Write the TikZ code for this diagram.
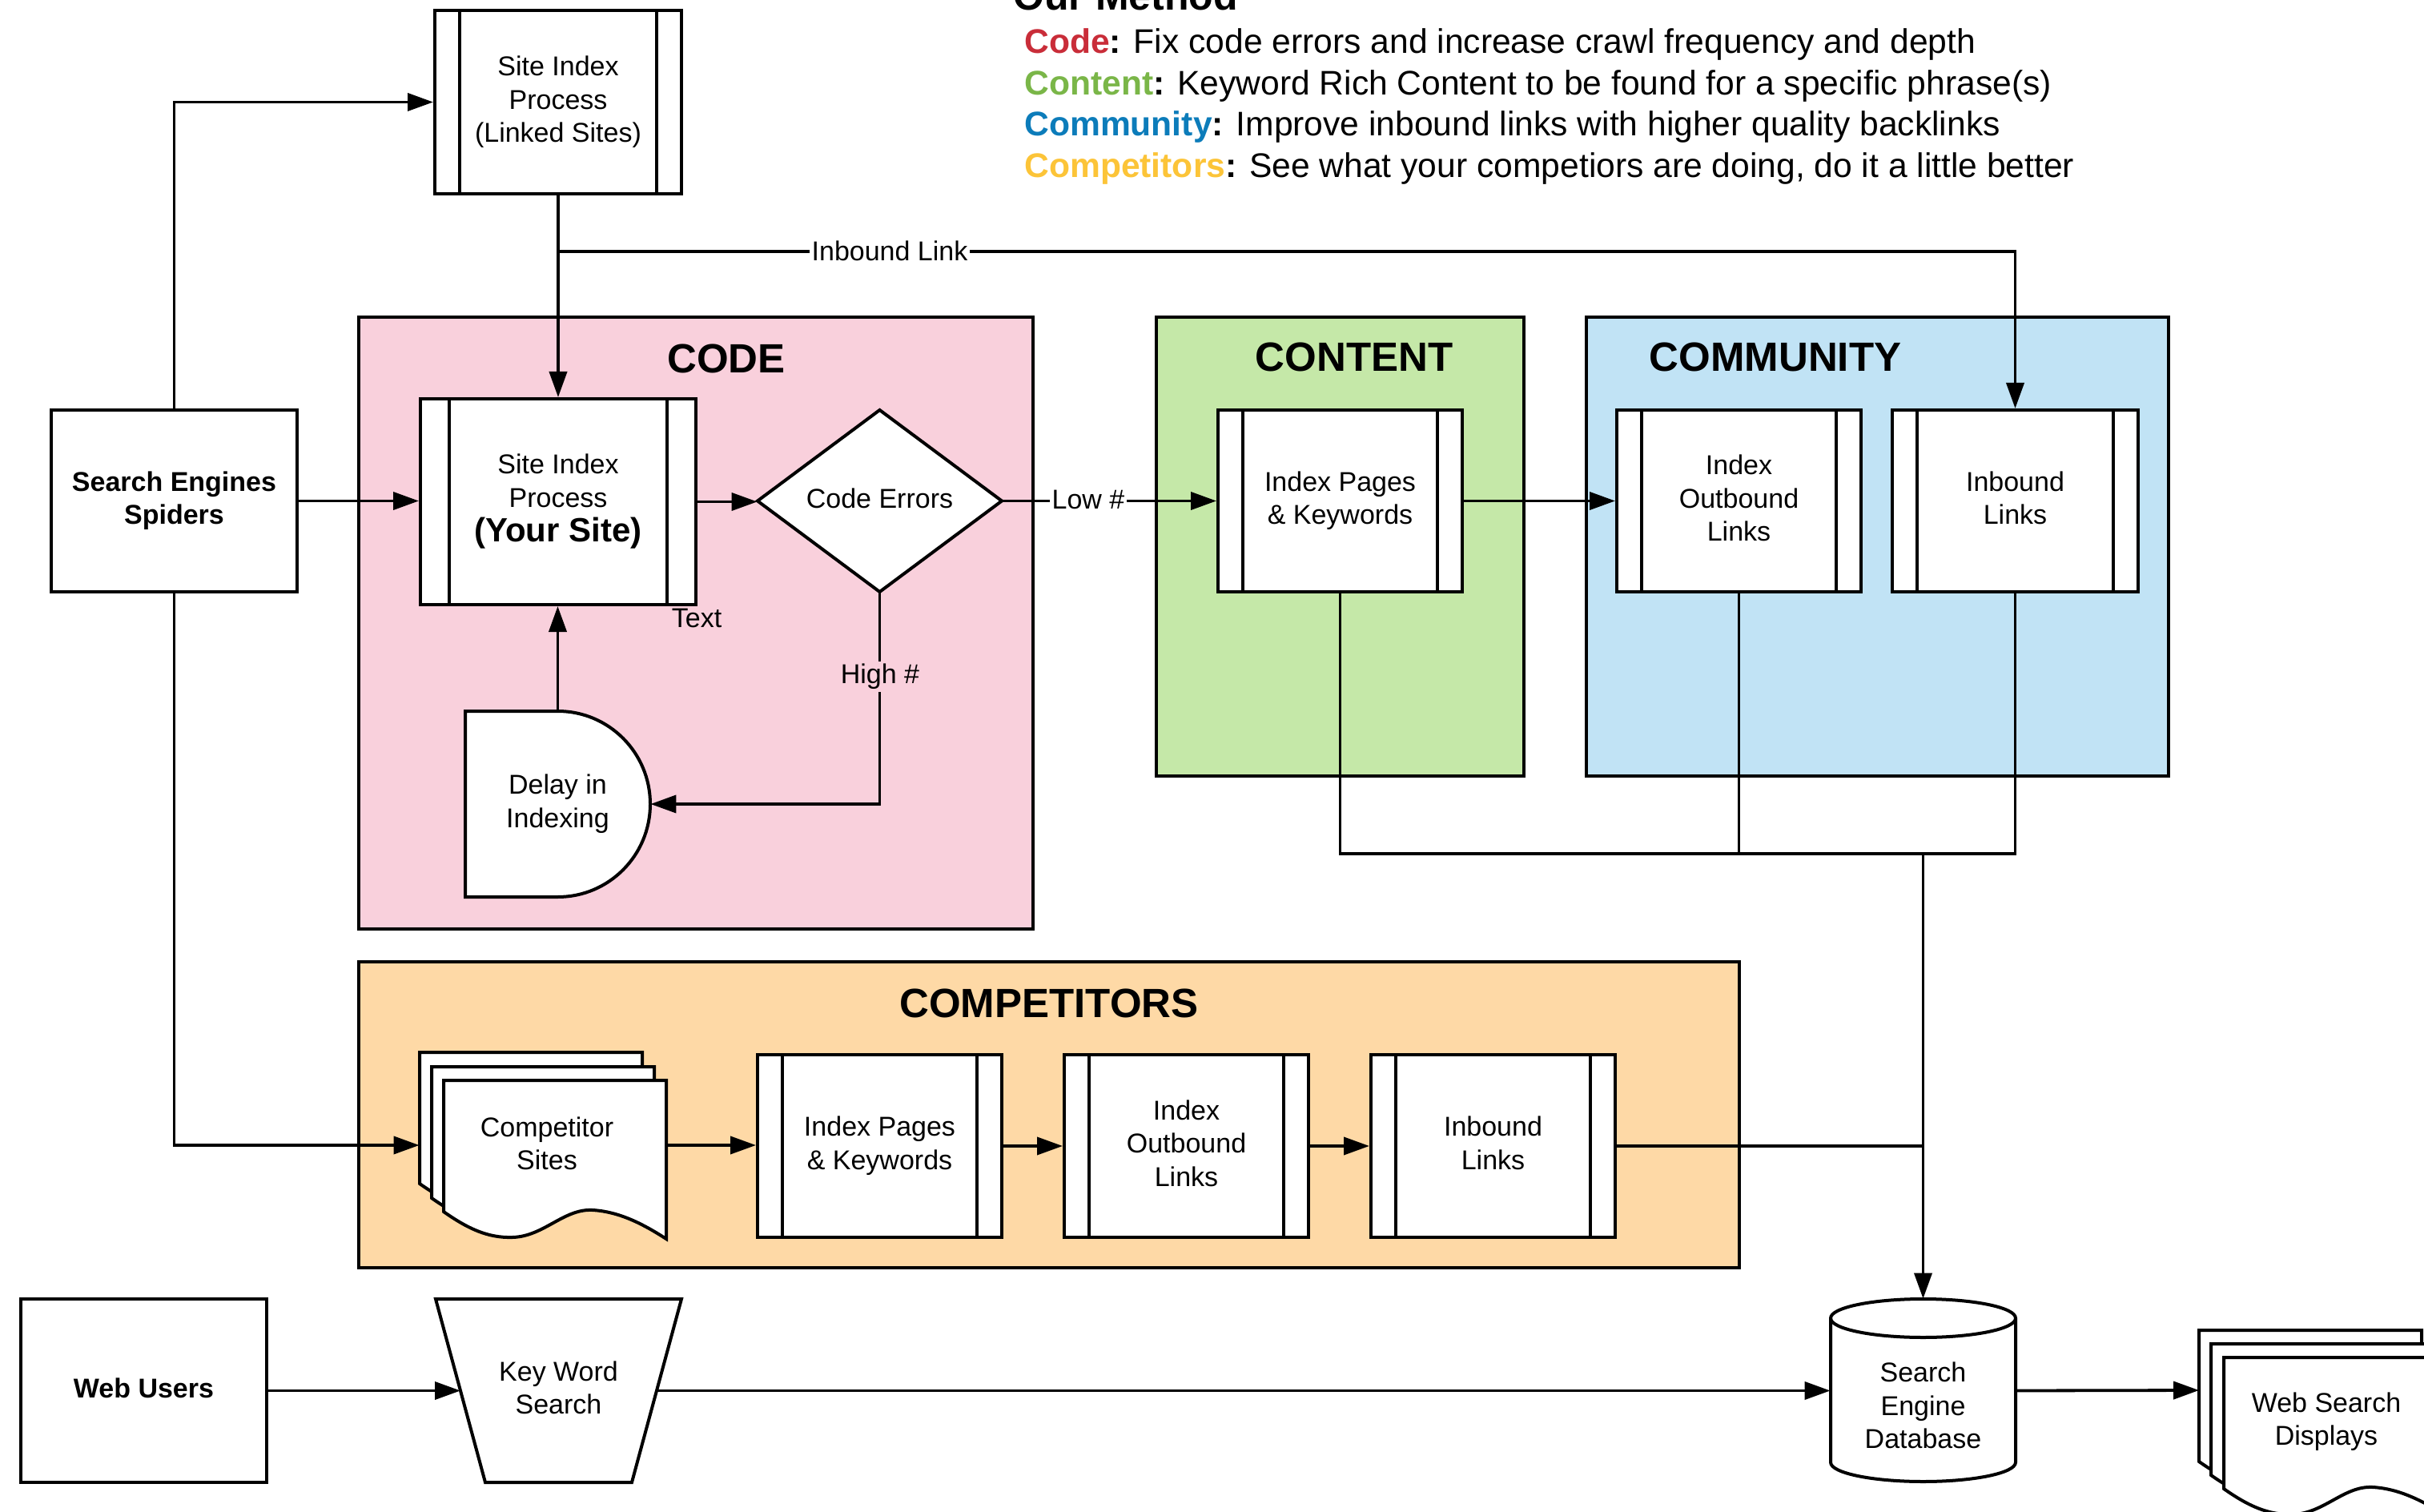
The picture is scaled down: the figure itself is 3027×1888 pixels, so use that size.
\documentclass[tikz,border=0pt]{standalone}
\usepackage{fontspec}
\setmainfont{Liberation Sans}
\usetikzlibrary{arrows.meta,calc}
\definecolor{pinkfill}{RGB}{249,208,220}
\definecolor{greenfill}{RGB}{197,232,168}
\definecolor{bluefill}{RGB}{193,227,245}
\definecolor{orangefill}{RGB}{254,217,166}
\definecolor{codered}{RGB}{201,45,57}
\definecolor{contentgreen}{RGB}{122,182,72}
\definecolor{communityblue}{RGB}{12,124,186}
\definecolor{compyellow}{RGB}{252,196,56}
\tikzset{
  txt/.style={align=center, inner sep=0pt, font=\fontsize{17}{20.75}\selectfont},
  strutted/.style={execute at end node={\rule[-3.7pt]{0pt}{0pt}}},
  box/.style={txt, strutted, draw, line width=2pt, fill=white, rectangle},
  procbox/.style={box, path picture={
      \draw[line width=2pt] ([xshift=#1]path picture bounding box.north west) -- ([xshift=#1]path picture bounding box.south west);
      \draw[line width=2pt] ([xshift=-#1]path picture bounding box.north east) -- ([xshift=-#1]path picture bounding box.south east);}},
  procbox/.default=15.5pt,
  ghost/.style={txt, strutted, rectangle, draw=none},
  conn/.style={line width=1.9pt, -{Triangle[length=16pt,width=11pt]}},
  plainline/.style={line width=1.9pt},
  shp/.style={draw, line width=2pt, fill=white, line join=miter},
  region/.style={draw, line width=1.9pt, rectangle, inner sep=0pt},
  rtitle/.style={inner sep=0pt, font=\fontsize{25.5}{30}\selectfont\bfseries},
  lbl/.style={inner sep=1.5pt, font=\fontsize{17}{20}\selectfont},
  legend/.style={anchor=base west, inner sep=0pt, font=\fontsize{21.3}{26}\selectfont}
}
\newcommand\docpage[2]{%
  \begin{scope}[shift={(#1,#2)}]
    \filldraw[shp] (0,0) -- (278,0) -- (278,198)
      .. controls (250,180) and (220,164) .. (186,162)
      .. controls (150,160) and (125,195) .. (86,196)
      .. controls (55,197) and (30,185) .. (0,164) -- cycle;
  \end{scope}}
\begin{document}
\begin{tikzpicture}[x=0.5pt,y=-0.5pt]
\useasboundingbox (0,0) rectangle (3027,1888);
\clip (0,0) rectangle (3027,1888);
\fill[white] (0,0) rectangle (3027,1888);

% regions
\node[region, fill=pinkfill, minimum width=421pt, minimum height=382pt] (codeR) at (869,778) {};
\node[region, fill=greenfill, minimum width=229.5pt, minimum height=286.5pt] (contR) at (1673.5,682.5) {};
\node[region, fill=bluefill, minimum width=363.5pt, minimum height=286.5pt] (commR) at (2344.5,682.5) {};
\node[region, fill=orangefill, minimum width=862pt, minimum height=191pt] (compR) at (1310,1392) {};
\node[rtitle] (codeT) at (907,448) {CODE};
\node[rtitle] (contT) at (1691,446) {CONTENT};
\node[rtitle] (commT) at (2217,446) {COMMUNITY};
\node[rtitle] (compT) at (1310,1253) {COMPETITORS};

% legend
\node[anchor=base west, inner sep=0pt, font=\fontsize{25}{30}\selectfont\bfseries] (om) at (1265,13) {Our Method};
\node[legend] (lg1) at (1279,67) {\textbf{\color{codered}Code}\textbf{:} Fix code errors and increase crawl frequency and depth};
\node[legend] (lg2) at (1279,119) {\textbf{\color{contentgreen}Content}\textbf{:} Keyword Rich Content to be found for a specific phrase(s)};
\node[legend] (lg3) at (1279,170) {\textbf{\color{communityblue}Community}\textbf{:} Improve inbound links with higher quality backlinks};
\node[legend] (lg4) at (1279,222) {\textbf{\color{compyellow}Competitors}\textbf{:} See what your competiors are doing, do it a little better};

% shapes drawn by path
\filldraw[shp] (1098.5,512) -- (1251,625.5) -- (1098.5,739) -- (946,625.5) -- cycle;
\filldraw[shp] (581,888) -- (696.5,888) arc[start angle=90, end angle=-90, x radius=57.75pt, y radius=58pt] -- (581,1120) -- cycle;
\filldraw[shp] (544,1622) -- (851,1622) -- (789,1851) -- (606,1851) -- cycle;
\filldraw[shp] (2286,1646) -- (2286,1826) arc[start angle=180, end angle=360, x radius=57.75pt, y radius=12pt] -- (2517,1646) arc[start angle=0, end angle=180, x radius=57.75pt, y radius=12pt] -- cycle;
\draw[shp, fill=none] (2286,1646) arc[start angle=180, end angle=360, x radius=57.75pt, y radius=12pt];
\docpage{524}{1314}\docpage{539}{1332}\docpage{554}{1349}
\docpage{2746}{1661}\docpage{2761}{1678}\docpage{2777}{1695}

% nodes
\node[procbox, minimum width=154pt, minimum height=114.5pt] (linked) at (697,127.5) {Site Index\\Process\\(Linked Sites)};
\node[box, minimum width=153.5pt, minimum height=113.5pt, font=\fontsize{17}{20.75}\selectfont\bfseries] (se) at (217.5,625.5) {Search Engines\\Spiders};
\node[procbox=17.8pt, minimum width=172pt, minimum height=128.5pt] (your) at (697,626.5) {Site Index\\Process\\[1pt]{\fontsize{21}{24}\selectfont\bfseries (Your Site)}};
\node[ghost, minimum width=152.5pt, minimum height=113.5pt] (ce) at (1098.5,625.5) {Code Errors};
\node[ghost, minimum width=115.5pt, minimum height=116pt] (dl) at (696.5,1004) {Delay in\\Indexing};
\node[procbox, minimum width=152.5pt, minimum height=113.5pt] (ci) at (1673.5,625.5) {Index Pages\\\& Keywords};
\node[procbox, minimum width=152.5pt, minimum height=113.5pt] (co) at (2171.5,625.5) {Index\\Outbound\\Links};
\node[procbox, minimum width=153.5pt, minimum height=113.5pt] (cib) at (2516.5,625.5) {Inbound\\Links};
\node[ghost, minimum width=154pt, minimum height=116pt] (comp) at (678,1430) {};
\node[txt] (compTxt) at (683,1428) {Competitor\\Sites};
\node[procbox, minimum width=152.5pt, minimum height=114pt] (pi) at (1098.5,1431) {Index Pages\\\& Keywords};
\node[procbox, minimum width=152.5pt, minimum height=114pt] (po) at (1481.5,1431) {Index\\Outbound\\Links};
\node[procbox, minimum width=152.5pt, minimum height=114pt] (pb) at (1864.5,1431) {Inbound\\Links};
\node[box, minimum width=153.5pt, minimum height=114.5pt, font=\fontsize{17}{20.75}\selectfont\bfseries] (wu) at (179.5,1736.5) {Web Users};
\node[ghost, minimum width=153.5pt, minimum height=114.5pt] (kw) at (697.5,1736.5) {Key Word\\Search};
\coordinate (kwL) at (575,1736.5);
\coordinate (kwR) at (820,1736.5);
\node[ghost, minimum width=115.5pt, minimum height=114.5pt] (db) at (2401.5,1736.5) {};
\node[txt] (dbTxt) at (2401.5,1755) {Search\\Engine\\Database};
\node[ghost, minimum width=154pt, minimum height=75pt] (wsd) at (2900.5,1736) {};
\node[txt] (wsdTxt) at (2905,1775) {Web Search\\Displays};
\node[lbl] (textLbl) at (870,772) {Text};

% connectors
\draw[conn] (se.north) |- (linked.west);
\draw[conn] (se.east) -- (se.east -| your.west);
\draw[conn] (se.south) |- (comp.west);
\draw[conn] (linked.south) -- (your.north);
\draw[conn] (linked.south |- 0,314) -| (cib.north);
\node[lbl, fill=white] (ibl) at (1111,313) {Inbound Link};
\draw[conn] (your.east) -- (your.east -| ce.west);
\draw[conn] (ce.east) -- (ci.west);
\node[lbl, fill=white] (lowl) at (1359,624) {Low \#};
\draw[conn] (ce.south) |- (dl.east);
\node[lbl, fill=pinkfill] (highl) at (1099,845) {High \#};
\draw[conn] (dl.north) -- (dl.north |- your.south);
\draw[conn] (ci.east) -- (co.west);
\draw[plainline] (ci.south) |- (cib.south |- 0,1066) -- (cib.south);
\draw[plainline] (co.south) -- (co.south |- 0,1066);
\draw[conn] (db.north |- 0,1066) -- (db.north);
\draw[conn] (comp.east) -- (comp.east -| pi.west);
\draw[conn] (pi.east) -- (po.west);
\draw[conn] (po.east) -- (pb.west);
\draw[plainline] (pb.east) -- (db.north |- pb.east);
\draw[conn] (wu.east) -- (kwL);
\draw[conn] (kwR) -- (db.west);
\draw[conn] (db.east) -- (wsd.west);
\end{tikzpicture}
\end{document}
